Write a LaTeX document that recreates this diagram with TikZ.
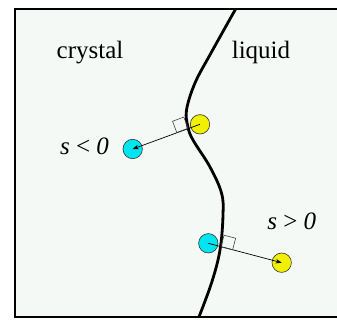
\documentclass[tikz,border=0pt]{standalone}
\usepackage{fontspec}
\setmainfont{Liberation Serif}
\usetikzlibrary{arrows.meta,calc}
\definecolor{bgcol}{RGB}{245,249,246}
\definecolor{cyanball}{RGB}{0,230,240}
\definecolor{yellowball}{RGB}{240,240,0}
\begin{document}
\begin{tikzpicture}[x=1pt, y=-1pt, font=\fontsize{25}{30}\selectfont,
    ball/.style={circle, draw=black!80, line width=0.6pt, minimum size=19.4pt, inner sep=0pt},
    arr/.style={-{Stealth[length=6pt,width=4.5pt]}, line width=0.7pt},
    ortho/.style={draw=black!75, line width=0.6pt}]
  \useasboundingbox (0,0) rectangle (337,320);
  \fill[bgcol] (15,9) rectangle (345,317);

  \node[anchor=base] (crystal) at (90,58.3) {crystal};
  \node[anchor=base] (liquid) at (261,58.3) {liquid};
  \node[anchor=base] (neg) at (84.5,155) {\textit{s} < \textit{0}};
  \node[anchor=base] (pos) at (291.7,230) {\textit{s} > \textit{0}};

  \node[ball, fill=yellowball] (yel1) at (200,124.3) {};
  \node[ball, fill=cyanball] (cyan1) at (132.7,149) {};
  \node[ball, fill=cyanball] (cyan2) at (208.3,243.3) {};
  \node[ball, fill=yellowball] (yel2) at (281.7,262.7) {};

  \begin{scope}
    \clip (15,9) rectangle (345,317);
    \draw[line width=2.8pt] plot[smooth, tension=0.6] coordinates {(239,3) (211,53) (195,83) (186.5,110) (188,127)
      (193,140) (210,167) (221.5,193) (223,215) (220,250) (211.5,283) (197,322)};
  \end{scope}

  \coordinate (foot1) at (188,128.3);
  \coordinate (foot2) at (221,246.8);
  \draw[arr] (yel1.center) -- (cyan1.center);
  \draw[arr] (cyan2.center) -- (yel2.center);
  \draw[ortho] (foot1) -- ($(foot1)!12pt!(cyan1)$) -- ($(foot1)!16.97pt!-45:(cyan1)$)
    -- ($(foot1)!12pt!-90:(cyan1)$) -- cycle;
  \draw[ortho] (foot2) -- ($(foot2)!12pt!(yel2)$) -- ($(foot2)!16.97pt!45:(yel2)$)
    -- ($(foot2)!12pt!90:(yel2)$) -- cycle;

  \draw[line width=2.5pt] (345,9) -- (15,9) -- (15,317) -- (345,317);
\end{tikzpicture}
\end{document}
